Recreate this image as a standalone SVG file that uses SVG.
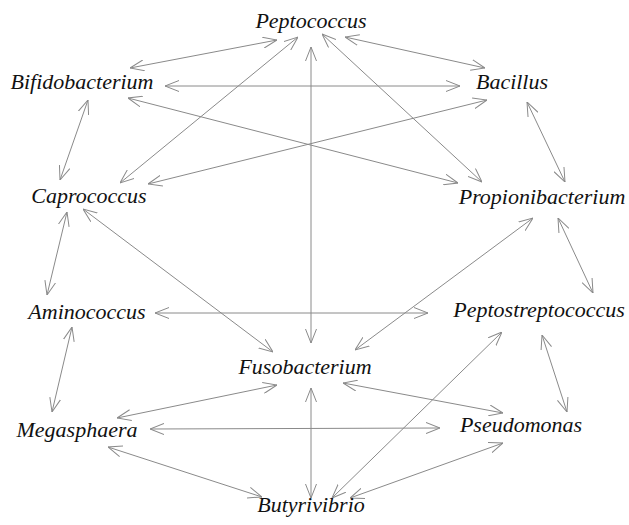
<svg xmlns="http://www.w3.org/2000/svg" width="629" height="525" viewBox="0 0 629 525">
<defs>
<style>
.n text{font-family:"Liberation Serif","Times New Roman",serif;font-style:italic;font-size:22px;fill:#111;text-anchor:middle}
.e line{stroke:#8a8a8a;stroke-width:1;fill:none;marker-start:url(#a);marker-end:url(#a)}
</style>
<marker id="a" viewBox="0 0 14 12" refX="14" refY="6" markerWidth="14" markerHeight="12" orient="auto-start-reverse" markerUnits="userSpaceOnUse">
<path d="M0,0.5 L14,6 L0,11.5" fill="none" stroke="#8a8a8a" stroke-width="1"/>
</marker>
</defs>
<rect width="629" height="525" fill="#fff"/>
<g id="edges" class="e">
<line x1="277" y1="40" x2="130" y2="68"/>
<line x1="345" y1="37" x2="485" y2="68"/>
<line x1="298" y1="37" x2="120" y2="183"/>
<line x1="311" y1="47" x2="311" y2="343"/>
<line x1="322" y1="34" x2="482" y2="182"/>
<line x1="165" y1="86" x2="460" y2="86"/>
<line x1="128" y1="98" x2="458" y2="183"/>
<line x1="487" y1="100" x2="148" y2="184"/>
<line x1="527" y1="102" x2="565" y2="182"/>
<line x1="88" y1="100" x2="60" y2="180"/>
<line x1="67" y1="212" x2="47" y2="295"/>
<line x1="83" y1="209" x2="273" y2="352"/>
<line x1="533" y1="218" x2="355" y2="350"/>
<line x1="558" y1="218" x2="593" y2="293"/>
<line x1="155" y1="313" x2="428" y2="313"/>
<line x1="72" y1="327" x2="52" y2="412"/>
<line x1="277" y1="385" x2="117" y2="418"/>
<line x1="150" y1="429" x2="440" y2="428"/>
<line x1="108" y1="447" x2="262" y2="497"/>
<line x1="311" y1="388" x2="311" y2="498"/>
<line x1="343" y1="383" x2="503" y2="413"/>
<line x1="502" y1="332" x2="332" y2="498"/>
<line x1="542" y1="335" x2="567" y2="412"/>
<line x1="503" y1="443" x2="350" y2="498"/>
</g>
<g id="peptococcus" class="n"><text x="311" y="28">Peptococcus</text></g>
<g id="bifidobacterium" class="n"><text x="82" y="89">Bifidobacterium</text></g>
<g id="bacillus" class="n"><text x="512" y="89">Bacillus</text></g>
<g id="caprococcus" class="n"><text x="89" y="203">Caprococcus</text></g>
<g id="propionibacterium" class="n"><text x="542" y="204">Propionibacterium</text></g>
<g id="aminococcus" class="n"><text x="87" y="319">Aminococcus</text></g>
<g id="peptostreptococcus" class="n"><text x="539" y="317">Peptostreptococcus</text></g>
<g id="fusobacterium" class="n"><text x="305" y="374">Fusobacterium</text></g>
<g id="megasphaera" class="n"><text x="77" y="437">Megasphaera</text></g>
<g id="pseudomonas" class="n"><text x="521" y="432">Pseudomonas</text></g>
<g id="butyrivibrio" class="n"><text x="311" y="512">Butyrivibrio</text></g>
</svg>
